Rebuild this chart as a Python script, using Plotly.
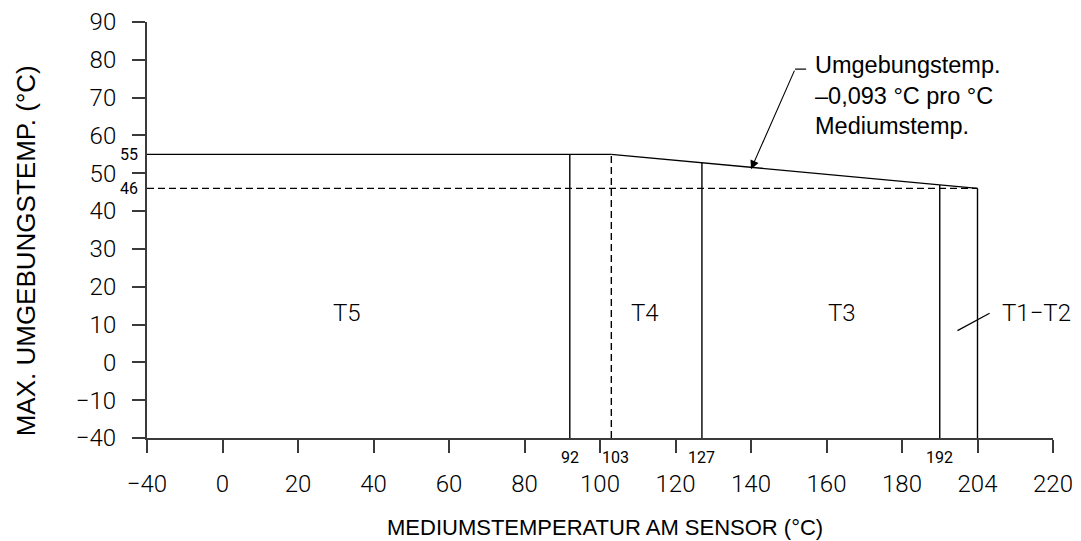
import numpy as np
import plotly.graph_objects as go

# ---- data ----
x_tick_values = [-40, 0, 20, 40, 60, 80, 100, 120, 140, 160, 180, 204, 220]
x_tick_labels = ["\u221240", "0", "20", "40", "60", "80", "100", "120", "140", "160", "180", "204", "220"]
y_tick_values = [-40, -10, 0, 10, 20, 30, 40, 50, 60, 70, 80, 90]
y_tick_labels = ["\u221240", "\u221210", "0", "10", "20", "30", "40", "50", "60", "70", "80", "90"]

zone_bounds = [92, 103, 127, 192, 204]      # process temperature limits
zone_bound_dashed = [False, True, False, False, False]
max_ambient = 55                              # max ambient up to 103 °C
min_ambient_end = 46                          # ambient at 204 °C
derate_start = 103
derate_end = 204
zone_names = ["T5", "T4", "T3", "T1\u2212T2"]
zone_label_x = [33, 112, 164]                 # approx. data x of zone labels
zone_label_y = 13                             # approx. data y of zone labels

# ---- schematic (piecewise) scales ----
def sx(v):
    return np.interp(v, x_tick_values, np.arange(len(x_tick_values)))

def sy(v):
    return np.interp(v, y_tick_values, np.arange(len(y_tick_values)))

x0 = sx(x_tick_values[0])
y0 = sy(y_tick_values[0])

# slope line in scale space
slope_x = [sx(derate_start), sx(derate_end)]
slope_y = [sy(max_ambient), sy(min_ambient_end)]

def top_of(v):
    if v <= derate_start:
        return sy(max_ambient)
    return float(np.interp(sx(v), slope_x, slope_y))

LINE = dict(color="black", width=1.4)
DASH = dict(color="black", width=1.4, dash="7px,4px")

fig = go.Figure()
# horizontal max line to 103
fig.add_trace(go.Scatter(x=[x0, sx(derate_start)], y=[sy(max_ambient)] * 2, mode="lines", line=LINE,
                         hoverinfo="skip"))
# derating slope
fig.add_trace(go.Scatter(x=slope_x, y=slope_y, mode="lines", line=LINE, hoverinfo="skip"))
# dashed 46 line
fig.add_trace(go.Scatter(x=[x0, sx(derate_end)], y=[sy(min_ambient_end)] * 2, mode="lines", line=DASH,
                         hoverinfo="skip"))
# vertical zone boundaries
for v, d in zip(zone_bounds, zone_bound_dashed):
    fig.add_trace(go.Scatter(x=[sx(v), sx(v)], y=[y0, top_of(v)], mode="lines",
                             line=DASH if d else LINE, hoverinfo="skip"))

CAD = "Roboto"
ann = []
# zone labels
for name, xv in zip(zone_names[:3], zone_label_x):
    ann.append(dict(x=sx(xv), y=sy(zone_label_y), text=name, showarrow=False,
                    font=dict(family=CAD, size=24, color="black", weight=300)))
# T1-T2 with leader
ann.append(dict(x=11.78, y=sy(zone_label_y), text=zone_names[3], showarrow=False,
                font=dict(family=CAD, size=24, color="black", weight=300)))
fig.add_shape(type="line", x0=10.735, y0=2.84, x1=11.16, y1=3.30, line=dict(color="black", width=1.2))

# small value labels on axes
for v in [max_ambient, min_ambient_end]:
    ann.append(dict(x=x0, y=sy(v), text=str(v), showarrow=False, xanchor="right", xshift=-7,
                    font=dict(family=CAD, size=16, color="black")))
for v in zone_bounds[:4]:
    shift = 4 if v == 103 else 0
    ann.append(dict(x=sx(v), y=y0, text=str(v), showarrow=False, yanchor="top", yshift=-8,
                    xshift=shift, font=dict(family=CAD, size=16, color="black")))

# derating callout
ann.append(dict(x=8.73, y=9.066, xanchor="left", yanchor="middle", xshift=7, align="left",
                text="Umgebungstemp.<br>\u20130,093 \u00b0C pro \u00b0C<br>Mediumstemp.",
                showarrow=False, font=dict(family="Liberation Sans", size=23.5, color="black")))
tip_x = sx(140)
tip_y = float(np.interp(tip_x, slope_x, slope_y))
ann.append(dict(x=tip_x, y=tip_y - 0.05, ax=8.584, ay=9.754, axref="x", ayref="y", text="",
                showarrow=True, arrowhead=2, arrowsize=1.6, arrowwidth=1.1, arrowcolor="black",
                standoff=0, startstandoff=0))
fig.add_shape(type="line", x0=8.584, y0=9.754, x1=8.73, y1=9.754, line=dict(color="black", width=1.2))

# axis titles
ann.append(dict(xref="paper", yref="paper", x=0.5055, y=-0.215, xanchor="center", yanchor="middle",
                text="MEDIUMSTEMPERATUR AM SENSOR (\u00b0C)",
                showarrow=False, font=dict(family="Liberation Sans", size=22, color="black")))
ann.append(dict(xref="paper", yref="paper", x=-0.1336, y=0.451, xanchor="center", yanchor="middle",
                text="MAX. UMGEBUNGSTEMP. (\u00b0C)",
                textangle=-90, showarrow=False, font=dict(family="Liberation Sans", size=26, color="black")))

AX = "#3a3a3a"
fig.update_layout(
    width=1081, height=541,
    margin=dict(l=147, r=28, t=22, b=103),
    paper_bgcolor="white", plot_bgcolor="white",
    showlegend=False,
    hovermode=False,
    annotations=ann,
    xaxis=dict(range=[0, len(x_tick_values) - 1], tickmode="array", automargin=False,
               tickvals=list(range(len(x_tick_values))), ticktext=x_tick_labels,
               showgrid=False, zeroline=False, showline=True, linecolor=AX, linewidth=2,
               ticks="outside", ticklen=13, tickwidth=2, tickcolor=AX,
               ticklabelstandoff=10,
               tickfont=dict(family=CAD, size=24, color="black", weight=300)),
    yaxis=dict(range=[0, len(y_tick_values) - 1], tickmode="array", automargin=False,
               tickvals=list(range(len(y_tick_values))), ticktext=y_tick_labels,
               showgrid=False, zeroline=False, showline=True, linecolor=AX, linewidth=2,
               ticks="outside", ticklen=13, tickwidth=2, tickcolor=AX,
               ticklabelstandoff=11,
               tickfont=dict(family=CAD, size=24, color="black", weight=300)),
)

fig.write_html("out.html", config={"displayModeBar": False},
               post_script="document.body.style.margin='0';")
